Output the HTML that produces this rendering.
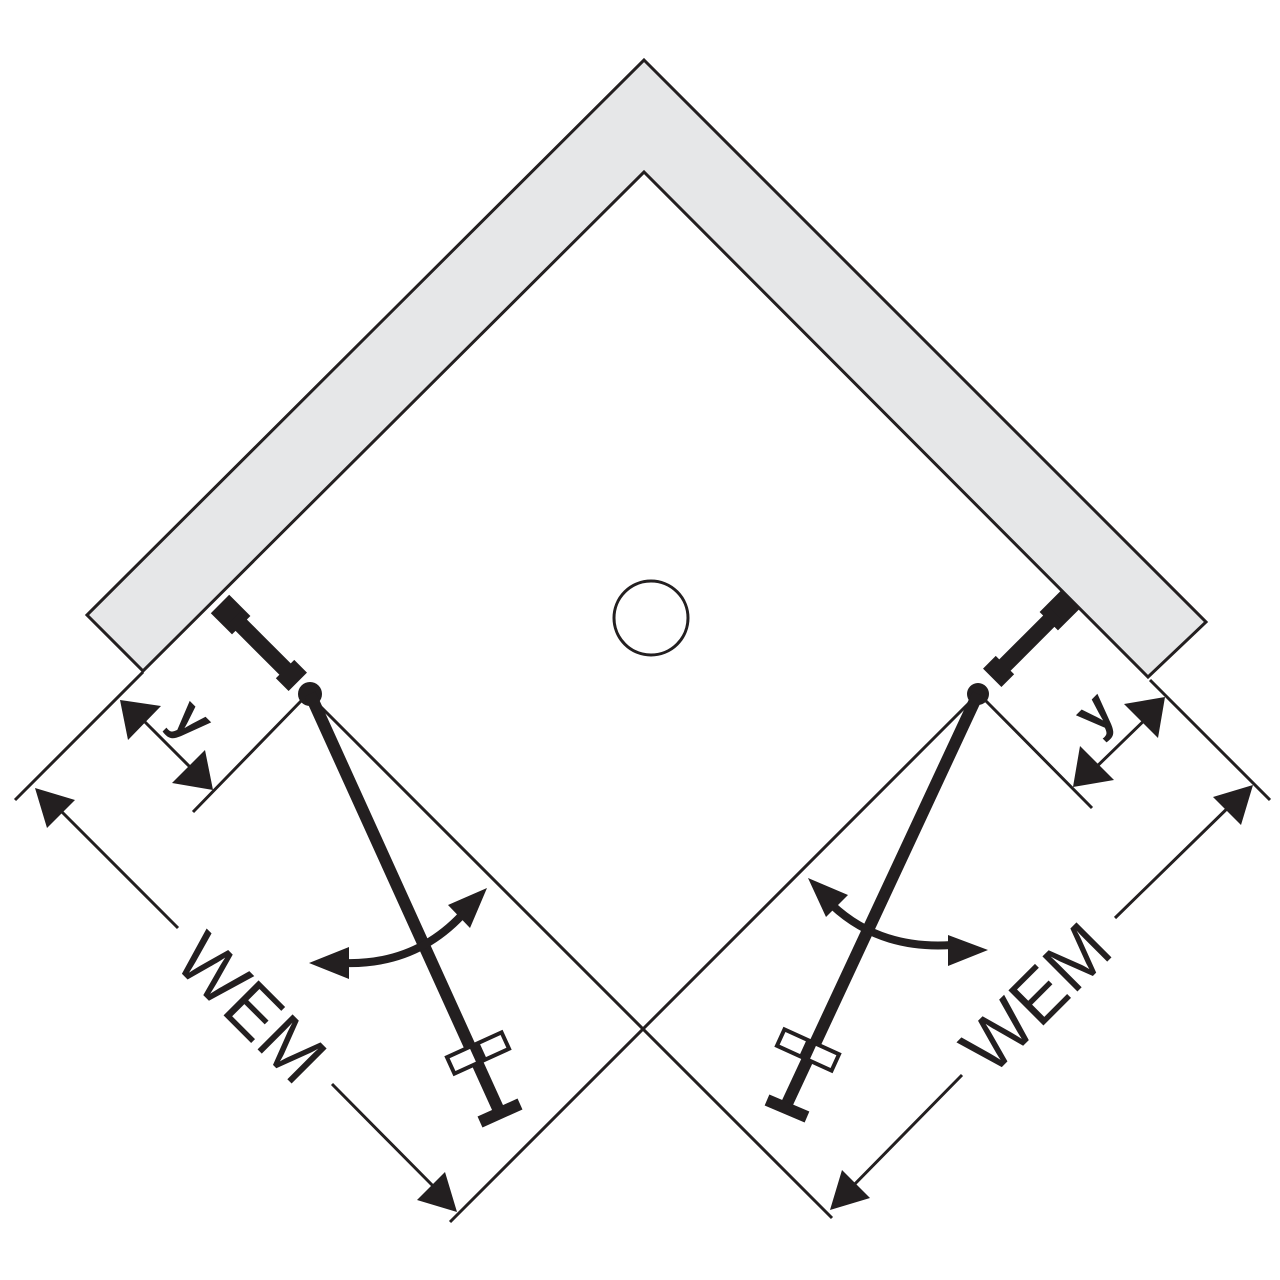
<!DOCTYPE html>
<html><head><meta charset="utf-8"><style>
html,body{margin:0;padding:0;background:#fff;}
svg{display:block;}
text{font-family:"Liberation Sans",sans-serif;fill:#231f20;}
</style></head><body>
<svg width="1280" height="1280" viewBox="0 0 1280 1280" xmlns="http://www.w3.org/2000/svg">
<polygon points="644,60 1206,622 1148,677 644,172 143,671 87,615" fill="#e6e7e8" stroke="#231f20" stroke-width="3" stroke-linejoin="miter"/>
<circle cx="651" cy="618" r="37" fill="#fff" stroke="#231f20" stroke-width="3"/>

<g stroke="#231f20" fill="none" stroke-width="3">
<line x1="302" y1="688" x2="832" y2="1218"/>
<line x1="985" y1="687" x2="450" y2="1222"/>
<line x1="143" y1="672" x2="15" y2="800"/>
<line x1="302" y1="700" x2="193" y2="812"/>
<line x1="1150" y1="680" x2="1270" y2="800"/>
<line x1="985" y1="700" x2="1092" y2="808"/>
<line x1="50" y1="800" x2="178" y2="928"/>
<line x1="332" y1="1084" x2="440" y2="1193"/>
<line x1="1238" y1="798" x2="1115" y2="918"/>
<line x1="962" y1="1075" x2="845" y2="1194"/>
<line x1="135" y1="712" x2="198" y2="775"/>
<line x1="1153" y1="712" x2="1088" y2="775"/>
</g>
<g fill="#231f20">
<polygon points="35,788 75,800 47,828"/>
<polygon points="457,1212 417,1200 445,1172"/>
<polygon points="1253,785 1241,825 1213,797"/>
<polygon points="830,1210 842,1170 870,1198"/>
<polygon points="120,700 161,706 128,740"/>
<polygon points="213,790 172,783 205,750"/>
<polygon points="1165,697 1158,738 1124,704"/>
<polygon points="1073,787 1080,746 1114,780"/>
</g>

<g fill="#231f20" transform="translate(220,604) rotate(45)">
<rect x="0" y="-13" width="30" height="26"/>
<rect x="20" y="-8" width="80" height="16"/>
<rect x="92" y="-13" width="18" height="26"/>
</g>
<circle cx="310" cy="694" r="12" fill="#231f20"/>
<line x1="310" y1="694" x2="500" y2="1113" stroke="#231f20" stroke-width="12"/>
<line x1="480" y1="1122" x2="520" y2="1104" stroke="#231f20" stroke-width="12"/>
<g transform="translate(478,1053) rotate(-24.5)">
<rect x="-30" y="-9" width="60" height="18" fill="#fff" stroke="#231f20" stroke-width="4"/>
<line x1="0" y1="-9" x2="0" y2="9" stroke="#231f20" stroke-width="11"/>
</g>

<g fill="#231f20" transform="translate(1070,600) rotate(135)">
<rect x="0" y="-13" width="30" height="26"/>
<rect x="20" y="-8" width="80" height="16"/>
<rect x="92" y="-13" width="18" height="26"/>
</g>
<circle cx="978" cy="694" r="11" fill="#231f20"/>
<line x1="978" y1="694" x2="785" y2="1108" stroke="#231f20" stroke-width="12"/>
<line x1="767" y1="1100" x2="807" y2="1117" stroke="#231f20" stroke-width="12"/>
<g transform="translate(808,1050) rotate(24.5)">
<rect x="-30" y="-9" width="60" height="18" fill="#fff" stroke="#231f20" stroke-width="4"/>
<line x1="0" y1="-9" x2="0" y2="9" stroke="#231f20" stroke-width="11"/>
</g>

<path d="M345,963 Q415,965 462,915" stroke="#231f20" stroke-width="8" fill="none"/>
<polygon points="309,963 349,947 349,979" fill="#231f20"/>
<polygon points="487,888 448,905 470,928" fill="#231f20"/>
<path d="M832,905 Q880,950 952,945" stroke="#231f20" stroke-width="8" fill="none"/>
<polygon points="808,878 848,895 826,917" fill="#231f20"/>
<polygon points="988,950 948,935 948,966" fill="#231f20"/>

<text x="247" y="1012" font-size="72" text-anchor="middle" dominant-baseline="middle" transform="rotate(45 247 1012)">WEM</text>
<text x="1040" y="1002" font-size="72" text-anchor="middle" dominant-baseline="middle" transform="rotate(-45 1040 1002)">WEM</text>
<text x="190" y="722" font-size="56" font-weight="bold" text-anchor="middle" dominant-baseline="middle" transform="rotate(45 190 722)">y</text>
<text x="1097" y="715" font-size="56" font-weight="bold" text-anchor="middle" dominant-baseline="middle" transform="rotate(-45 1097 715)">y</text>
</svg>
</body></html>
